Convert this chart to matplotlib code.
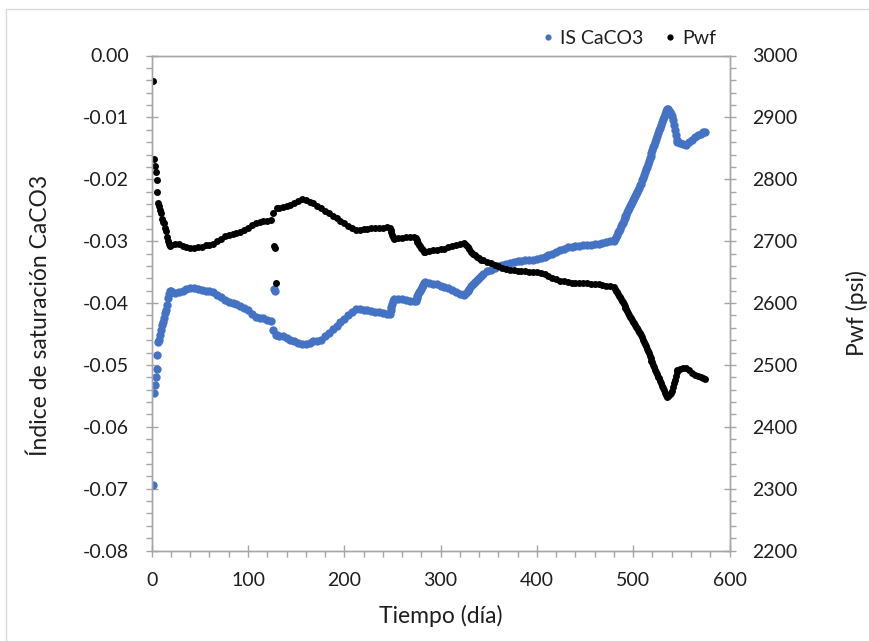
import matplotlib
matplotlib.use("Agg")
import matplotlib.pyplot as plt
from matplotlib.ticker import MultipleLocator, FuncFormatter
from matplotlib.lines import Line2D
from matplotlib.patches import Rectangle

plt.rcParams['font.family'] = ['Lato', 'DejaVu Sans']
plt.rcParams['axes.unicode_minus'] = False

# ---- data ----
days = [1, 2, 3, 4, 5, 6, 7, 8, 9, 10, 11, 12, 13, 14, 15, 16, 17, 18, 19, 20,
        24, 28, 32, 36, 40, 44, 48, 52, 56, 60, 64, 68, 72, 76, 80, 84, 88, 92, 96, 100,
        104, 108, 112, 116, 120, 124,
        126, 127, 128, 129, 130,
        132, 136, 140, 144, 148, 152, 156, 160, 164, 168, 172, 176, 180, 184, 188, 192, 196, 200,
        204, 208, 212, 216, 220, 224, 228, 232, 236, 240, 244,
        247, 248, 249, 250, 251, 252,
        256, 260, 264, 268, 272,
        274, 275, 276, 277, 278, 279, 280, 281, 282, 283, 284,
        288, 292, 296, 300, 304, 308, 312, 316, 320, 324,
        326, 328, 330, 332, 334, 336, 338, 340, 342, 344,
        348, 352, 356, 360, 364, 368, 372, 376, 380, 384, 388, 392, 396, 400, 404, 408, 412, 416,
        420, 424, 428, 432, 436, 440, 444, 448, 452, 456, 460, 464, 468, 472, 476, 480,
        481, 482, 483, 484, 485, 486, 487, 488, 489, 490, 491, 492, 493, 494, 495, 496, 497, 498,
        499, 500, 501, 502, 503, 504, 505, 506, 507, 508, 509, 510, 511, 512, 513, 514, 515, 516,
        517, 518, 519, 520, 521, 522, 523, 524, 525, 526, 527, 528, 529, 530, 531, 532, 533, 534,
        535, 536, 537, 538, 539, 540,
        541, 542, 543, 544, 545, 546, 549, 552, 555, 558, 561, 564, 567, 570, 573, 575]

is_caco3 = [-0.0694, -0.0545, -0.0533, -0.0519, -0.0506, -0.0484, -0.0463, -0.0459, -0.0452, -0.0444,
            -0.0436, -0.0430, -0.0424, -0.0416, -0.0411, -0.0404, -0.0392, -0.0386, -0.0381, -0.0380,
            -0.0384, -0.0382, -0.0380, -0.0378, -0.0376, -0.0376, -0.0377, -0.0379, -0.0380, -0.0381,
            -0.0383, -0.0387, -0.0391, -0.0395, -0.0398, -0.0400, -0.0402, -0.0405, -0.0408, -0.0412,
            -0.0418, -0.0422, -0.0424, -0.0425, -0.0427, -0.0429,
            -0.0444, -0.0377, -0.0380, -0.0452, -0.0452,
            -0.0453, -0.0454, -0.0456, -0.0459, -0.0462, -0.0465, -0.0467, -0.0466, -0.0464, -0.0462,
            -0.0461, -0.0459, -0.0454, -0.0448, -0.0442, -0.0437, -0.0431, -0.0426,
            -0.0420, -0.0415, -0.0410, -0.0410, -0.0411, -0.0412, -0.0413, -0.0414, -0.0415, -0.0416, -0.0417,
            -0.0417, -0.0412, -0.0407, -0.0402, -0.0397, -0.0394,
            -0.0393, -0.0394, -0.0395, -0.0396, -0.0397,
            -0.0396, -0.0392, -0.0389, -0.0386, -0.0383, -0.0380, -0.0377, -0.0374, -0.0371, -0.0368, -0.0366,
            -0.0367, -0.0369, -0.0370, -0.0372, -0.0374, -0.0376, -0.0379, -0.0382, -0.0385, -0.0387,
            -0.0384, -0.0380, -0.0377, -0.0373, -0.0370, -0.0366, -0.0363, -0.0359, -0.0356, -0.0353,
            -0.0349, -0.0347, -0.0344, -0.0341, -0.0339, -0.0337, -0.0335, -0.0333, -0.0332, -0.0332,
            -0.0331, -0.0330, -0.0330, -0.0329, -0.0328, -0.0326, -0.0323, -0.0320,
            -0.0317, -0.0314, -0.0312, -0.0310, -0.0309, -0.0308, -0.0308, -0.0307, -0.0307, -0.0306,
            -0.0305, -0.0304, -0.0303, -0.0302, -0.0300, -0.0299,
            -0.0296, -0.0293, -0.0290, -0.0286, -0.0283, -0.0280, -0.0276, -0.0273, -0.0270, -0.0266,
            -0.0263, -0.0260, -0.0257, -0.0253, -0.0250, -0.0247, -0.0243, -0.0240,
            -0.0237, -0.0233, -0.0230, -0.0227, -0.0224, -0.0220, -0.0217, -0.0214, -0.0210, -0.0207,
            -0.0202, -0.0198, -0.0193, -0.0189, -0.0184, -0.0180, -0.0175, -0.0171,
            -0.0166, -0.0162, -0.0157, -0.0153, -0.0148, -0.0144, -0.0139, -0.0135, -0.0130, -0.0126,
            -0.0121, -0.0117, -0.0112, -0.0108, -0.0103, -0.0099, -0.0094, -0.0090,
            -0.0086, -0.0087, -0.0089, -0.0092, -0.0095, -0.0098,
            -0.0104, -0.0112, -0.0120, -0.0128, -0.0137, -0.0140, -0.0141, -0.0143, -0.0145, -0.0140,
            -0.0136, -0.0132, -0.0129, -0.0127, -0.0124, -0.0123]

pwf = [2959, 2832, 2821, 2811, 2799, 2780, 2761, 2757, 2751, 2745,
       2736, 2731, 2729, 2721, 2716, 2707, 2700, 2695, 2692, 2693,
       2696, 2695, 2692, 2690, 2689, 2689, 2690, 2691, 2693, 2694,
       2696, 2700, 2704, 2708, 2710, 2712, 2713, 2715, 2718, 2721,
       2726, 2729, 2731, 2732, 2733, 2734,
       2745, 2692, 2689, 2633, 2753,
       2754, 2755, 2757, 2759, 2762, 2765, 2768, 2767, 2764, 2761,
       2757, 2753, 2749, 2745, 2741, 2737, 2733, 2729,
       2725, 2721, 2718, 2718, 2719, 2720, 2721, 2721, 2722, 2722, 2723,
       2722, 2718, 2714, 2710, 2706, 2704,
       2705, 2705, 2706, 2706, 2706,
       2705, 2702, 2699, 2697, 2694, 2692, 2689, 2687, 2685, 2683, 2683,
       2684, 2685, 2686, 2687, 2688, 2690, 2692, 2694, 2696, 2697,
       2694, 2690, 2687, 2683, 2680, 2677, 2674, 2672, 2670, 2669,
       2666, 2664, 2661, 2659, 2657, 2655, 2654, 2653, 2652, 2651,
       2651, 2650, 2650, 2650, 2649, 2647, 2644, 2641,
       2638, 2636, 2635, 2634, 2633, 2633, 2632, 2632, 2632, 2631,
       2631, 2630, 2629, 2628, 2627, 2626,
       2623, 2620, 2618, 2615, 2612, 2609, 2606, 2604, 2601, 2598,
       2595, 2592, 2590, 2587, 2584, 2581, 2578, 2576,
       2573, 2570, 2567, 2565, 2562, 2559, 2556, 2553, 2551, 2548,
       2545, 2541, 2537, 2534, 2530, 2526, 2522, 2519,
       2515, 2511, 2507, 2504, 2500, 2496, 2492, 2489, 2485, 2481,
       2478, 2474, 2470, 2466, 2463, 2459, 2455, 2452,
       2448, 2449, 2451, 2453, 2455, 2458,
       2464, 2470, 2476, 2482, 2488, 2492, 2494, 2495, 2495, 2491,
       2487, 2484, 2482, 2480, 2478, 2477]

assert len(days) == len(is_caco3) == len(pwf)

series_labels = ["IS CaCO3", "Pwf"]
x_label = "Tiempo (día)"
y_left_label = "Índice de saturación CaCO3"
y_right_label = "Pwf (psi)"

BLUE = "#4472C4"
BLACK = "#000000"
GRID = "#A6A6A6"
TXT = "#1E1E1E"
FS = 14
LFS = 16.5

fig = plt.figure(figsize=(8.69, 6.41), dpi=100)
fig.patches.append(Rectangle((6 / 869, -0.1), 1.2, (641 - 9) / 641 + 0.1,
                             transform=fig.transFigure, fill=False,
                             edgecolor="#D9D9D9", linewidth=1.0))

ax = fig.add_axes([151.7 / 869, 1 - 550.5 / 641, (729.5 - 151.7) / 869, (550.5 - 55.5) / 641])
ax2 = ax.twinx()

ax.plot(days, is_caco3, linestyle="none", marker="o", markersize=6.0,
        markeredgewidth=0, color=BLUE, label=series_labels[0])
ax2.plot(days, pwf, linestyle="none", marker="o", markersize=5.0,
         markeredgewidth=0, color=BLACK, label=series_labels[1])

ax.set_xlim(0, 600)
ax.set_ylim(-0.08, 0.0)
ax2.set_ylim(2200, 3000)

ax.xaxis.set_major_locator(MultipleLocator(100))
ax.xaxis.set_minor_locator(MultipleLocator(20))
ax.yaxis.set_major_locator(MultipleLocator(0.01))
ax.yaxis.set_minor_locator(MultipleLocator(0.002))
ax2.yaxis.set_major_locator(MultipleLocator(100))
ax2.yaxis.set_minor_locator(MultipleLocator(20))
ax.yaxis.set_major_formatter(FuncFormatter(lambda v, p: "%.2f" % v if abs(v) > 1e-9 else "0.00"))

for a in (ax, ax2):
    for s in a.spines.values():
        s.set_color(GRID)
        s.set_linewidth(1.0)
    a.tick_params(which="major", direction="inout", length=9, width=1.0, color=GRID,
                  labelsize=FS, labelcolor=TXT, pad=12)
    a.tick_params(which="minor", direction="out", length=4.5, width=1.0, color=GRID)

ax.tick_params(axis="x", which="major", pad=11)
ax2.tick_params(axis="y", which="major", pad=12)

ax.set_xlabel(x_label, fontsize=LFS, color=TXT)
ax.set_ylabel(y_left_label, fontsize=LFS, color=TXT)
ax2.set_ylabel(y_right_label, fontsize=LFS, color=TXT)
ax.xaxis.set_label_coords(0.5, -0.132)
ax.yaxis.set_label_coords(-0.193, 0.475)
ax2.yaxis.set_label_coords(1.22, 0.48)
ax.xaxis.label.set_va("center")
ax.yaxis.label.set_va("center")
ax2.yaxis.label.set_va("center")

handles = [Line2D([], [], linestyle="none", marker="o", markersize=4.5, markeredgewidth=0, color=BLUE),
           Line2D([], [], linestyle="none", marker="o", markersize=4.5, markeredgewidth=0, color=BLACK)]
fig.legend(handles, series_labels, loc="upper right", bbox_to_anchor=(0.844, 0.981),
           ncol=2, frameon=False, fontsize=FS, handlelength=0.3, handletextpad=0.45,
           columnspacing=1.25, labelcolor=TXT)

fig.savefig("out.png", dpi=100)
